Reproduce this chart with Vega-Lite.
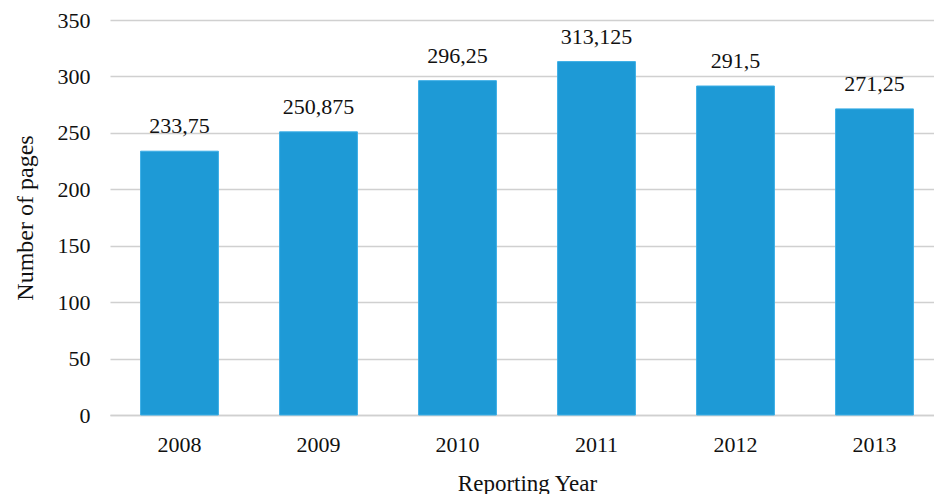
{
  "$schema": "https://vega.github.io/schema/vega-lite/v6.json",
  "autosize": {"type": "none"},
  "width": 834,
  "height": 395,
  "padding": {"left": 110, "top": 20, "right": 0, "bottom": 79},
  "background": "white",
  "config": {
    "font": "Liberation Serif",
    "view": {"stroke": null},
    "locale": {"number": {"decimal": ",", "thousands": ".", "grouping": [3], "currency": ["", ""]}}
  },
  "data": {
    "values": [
      {"year": "2008", "pages": 233.75},
      {"year": "2009", "pages": 250.875},
      {"year": "2010", "pages": 296.25},
      {"year": "2011", "pages": 313.125},
      {"year": "2012", "pages": 291.5},
      {"year": "2013", "pages": 271.25}
    ]
  },
  "encoding": {
    "x": {
      "field": "year", "type": "nominal",
      "scale": {"paddingInner": 0.44, "paddingOuter": 0.22},
      "axis": {
        "title": "Reporting Year", "labelAngle": 0, "ticks": false,
        "domainColor": "#d0d0d0", "domainWidth": 1.5,
        "labelFontSize": 22, "labelColor": "#111", "labelPadding": 19,
        "titleFontSize": 23, "titleFontWeight": "normal", "titleColor": "#111", "titlePadding": 17
      }
    },
    "y": {
      "field": "pages", "type": "quantitative",
      "scale": {"domain": [0, 350]},
      "axis": {
        "title": "Number of pages", "values": [0, 50, 100, 150, 200, 250, 300, 350],
        "ticks": false, "domain": false, "gridColor": "#d0d0d0", "gridWidth": 1.5,
        "labelFontSize": 22, "labelColor": "#111", "labelPadding": 20,
        "titleFontSize": 24, "titleFontWeight": "normal", "titleColor": "#111", "titlePadding": 20
      }
    }
  },
  "layer": [
    {"mark": {"type": "bar", "color": "#1E9AD6", "stroke": "#3aaee6", "strokeWidth": 1}},
    {
      "mark": {"type": "text", "baseline": "alphabetic", "dy": -18, "fontSize": 22, "color": "#111"},
      "encoding": {"text": {"field": "pages", "type": "quantitative", "format": ".6~g"}}
    }
  ]
}
